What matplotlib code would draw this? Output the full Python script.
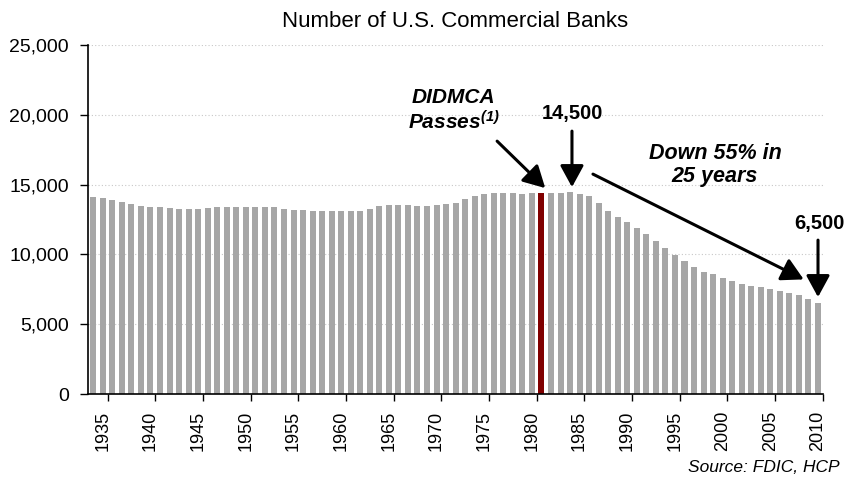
import numpy as np
import matplotlib
matplotlib.use("Agg")
import matplotlib.pyplot as plt
from matplotlib.ticker import FuncFormatter

# --- Data ---
years = list(range(1934, 2011))
banks = [
    14116, 14069, 13925, 13758, 13639, 13496, 13400, 13376, 13305, 13233,  # 1934-1943
    13233, 13281, 13328, 13376, 13376, 13424, 13424, 13424, 13424, 13400,  # 1944-1953
    13281, 13209, 13185, 13137, 13090, 13090, 13114, 13090, 13090, 13257,  # 1954-1963
    13472, 13519, 13519, 13519, 13472, 13472, 13519, 13615, 13710, 13949,  # 1964-1973
    14212, 14355, 14379, 14379, 14379, 14308, 14379, 14379, 14427, 14427,  # 1974-1983
    14451, 14355, 14188, 13710, 13114, 12684, 12325, 11920, 11442, 10940,  # 1984-1993
    10439, 9937, 9531, 9125, 8767, 8576, 8314, 8075, 7884, 7764,           # 1994-2003
    7645, 7526, 7406, 7263, 7072, 6833, 6523,                              # 2004-2010
]
highlight_year = 1981
label_years = list(range(1935, 2011, 5))
y_ticks = [0, 5000, 10000, 15000, 20000, 25000]

title = "Number of U.S. Commercial Banks"
source = "Source: FDIC, HCP"

plt.rcParams['font.family'] = ['Liberation Sans', 'DejaVu Sans']
plt.rcParams['mathtext.fontset'] = 'custom'
plt.rcParams['mathtext.rm'] = 'Liberation Sans:bold:italic'
plt.rcParams['mathtext.it'] = 'Liberation Sans:bold:italic'

fig = plt.figure(figsize=(8.45, 4.8), dpi=100)
ax = fig.add_axes([0.1047, 0.179, 0.869, 0.727])

colors = ["#800000" if y == highlight_year else "#A6A6A6" for y in years]
ax.bar(years, banks, width=0.63, color=colors, zorder=2)

# axes styling
ax.set_xlim(years[0] - 0.5, years[-1] + 0.5)
ax.set_ylim(0, 25000)
ax.set_yticks(y_ticks)
ax.yaxis.set_major_formatter(FuncFormatter(lambda v, p: f"{int(v):,}"))
ax.tick_params(axis='y', length=6, width=1, pad=8, labelsize=14, direction='out')

ax.set_xticks(label_years)
ax.set_xticklabels([str(y) for y in label_years], rotation=90)
ax.tick_params(axis='x', which='major', length=0, pad=12, labelsize=13)
ax.set_xticks([y + 0.5 for y in label_years], minor=True)
ax.tick_params(axis='x', which='minor', length=5, width=1, direction='out')

for s in ['top', 'right']:
    ax.spines[s].set_visible(False)
for s in ['left', 'bottom']:
    ax.spines[s].set_linewidth(1.2)
    ax.spines[s].set_color('black')

ax.yaxis.grid(True, linestyle=(0, (1, 2)), color='#C8C8C8', linewidth=0.8, zorder=0)
ax.set_axisbelow(True)

fig.text(0.539, 0.956, title, ha='center', va='center', fontsize=16)
fig.text(0.994, 0.025, source, ha='right', va='center', fontsize=12.5, style='italic')

# --- Annotations ---
arrow = dict(arrowstyle='-|>,head_length=0.55,head_width=0.3', color='black', lw=2.2,
             mutation_scale=24, shrinkA=0, shrinkB=0)
bi = dict(fontsize=15, fontweight='bold', style='italic', ha='center', va='center')

ax.text(1971.8, 21274, "DIDMCA", **bi)
ax.text(1971.8, 19484, r"Passes$^{(1)}$", **bi)
ax.annotate("", xy=(1981.4, 14756), xytext=(1976.35, 18122), arrowprops=arrow)

ax.text(1984.3, 20092, "14,500", fontsize=14.5, fontweight='bold', ha='center', va='center')
ax.annotate("", xy=(1984.2, 14827), xytext=(1984.2, 18839), arrowprops=arrow)

ax.text(1999.2, 16404, "Down 55% in\n25 years", linespacing=1.15, fontsize=15.5,
        fontweight='bold', style='italic', ha='center', va='center')
ax.annotate("", xy=(2008.5, 8216), xytext=(1986.4, 15759), arrowprops=arrow)

ax.text(2010.1, 12249, "6,500", fontsize=14.5, fontweight='bold', ha='center', va='center',
        clip_on=False)
ax.annotate("", xy=(2010.0, 6948), xytext=(2010.0, 11031), arrowprops=arrow,
            annotation_clip=False)

fig.savefig("out.png", dpi=100)
